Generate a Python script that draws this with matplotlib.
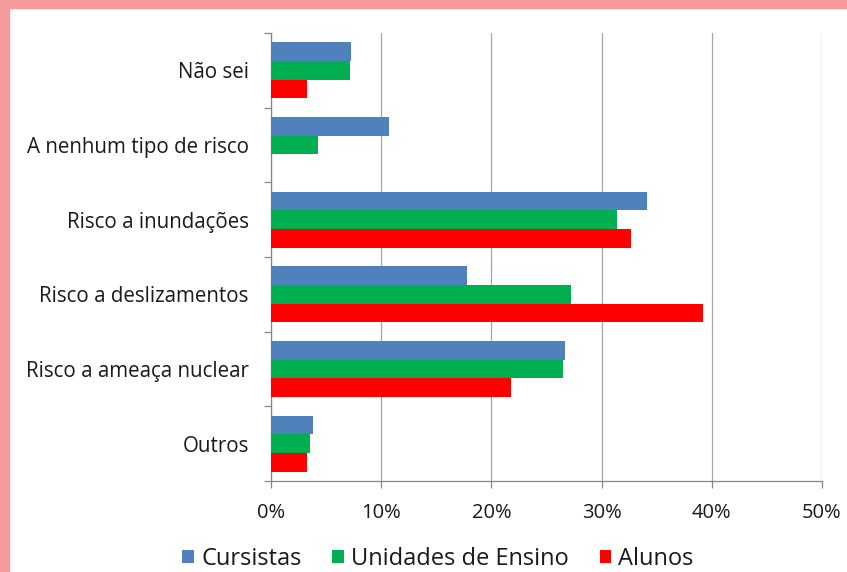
import numpy as np
import matplotlib.pyplot as plt
from matplotlib.ticker import FuncFormatter

plt.rcParams['font.family'] = ['Open Sans', 'DejaVu Sans']

categories = ['Não sei', 'A nenhum tipo de risco', 'Risco a inundações',
              'Risco a deslizamentos', 'Risco a ameaça nuclear', 'Outros']
series_names = ['Cursistas', 'Unidades de Ensino', 'Alunos']
cursistas = [7.3, 10.7, 34.1, 17.8, 26.7, 3.8]
unidades = [7.2, 4.3, 31.4, 27.2, 26.5, 3.5]
alunos = [3.3, 0.0, 32.7, 39.2, 21.8, 3.3]
colors = ['#4F81BD', '#00B050', '#FF0000']

fig = plt.figure(figsize=(8.47, 5.72), dpi=100)
fig.patch.set_facecolor('white')

# pink frame strips along top and left
fig.patches.append(plt.Rectangle((0, 1 - 8 / 572), 1, 8 / 572, transform=fig.transFigure,
                                 color='#F59A9A', zorder=0))
fig.patches.append(plt.Rectangle((0, 0), 9 / 847, 1, transform=fig.transFigure,
                                 color='#F59A9A', zorder=0))

ax = fig.add_axes([271 / 847, 1 - 481 / 572, (822 - 271) / 847, (481 - 33) / 572])

y = np.arange(len(categories))
h = 0.25
for k, (vals, name, c) in enumerate(zip([cursistas, unidades, alunos], series_names, colors)):
    ax.barh(y + (k - 1) * h, vals, height=h, color=c, label=name, zorder=3)

ax.set_xlim(0, 50)
ax.set_ylim(len(categories) - 0.5, -0.5)
ax.set_xticks(np.arange(0, 51, 10))
ax.xaxis.set_major_formatter(FuncFormatter(lambda v, p: f'{int(v)}%'))
ax.grid(axis='x', color='#A6A6A6', linewidth=0.9, zorder=0)

ax.set_yticks(y)
ax.set_yticklabels(categories, fontsize=14.8, color='#1a1a1a')
ax.set_yticks(np.arange(-0.5, len(categories)), minor=True)
ax.tick_params(axis='y', which='major', length=0, pad=16)
ax.tick_params(axis='y', which='minor', length=5, color='#868686', width=0.9)
ax.tick_params(axis='x', length=5, color='#868686', width=0.9, labelsize=14.5,
               labelcolor='#1a1a1a', pad=11)

for s in ['top', 'right']:
    ax.spines[s].set_visible(False)
for s in ['left', 'bottom']:
    ax.spines[s].set_color('#868686')
    ax.spines[s].set_linewidth(0.9)

leg = fig.legend(loc='center', bbox_to_anchor=(438 / 847, 1 - 559 / 572), ncol=3, frameon=False,
                 fontsize=17, handlelength=0.5, handleheight=0.5, handletextpad=0.3,
                 columnspacing=1.3)
for t in leg.get_texts():
    t.set_color('#1a1a1a')

fig.savefig('out.png', dpi=100)
